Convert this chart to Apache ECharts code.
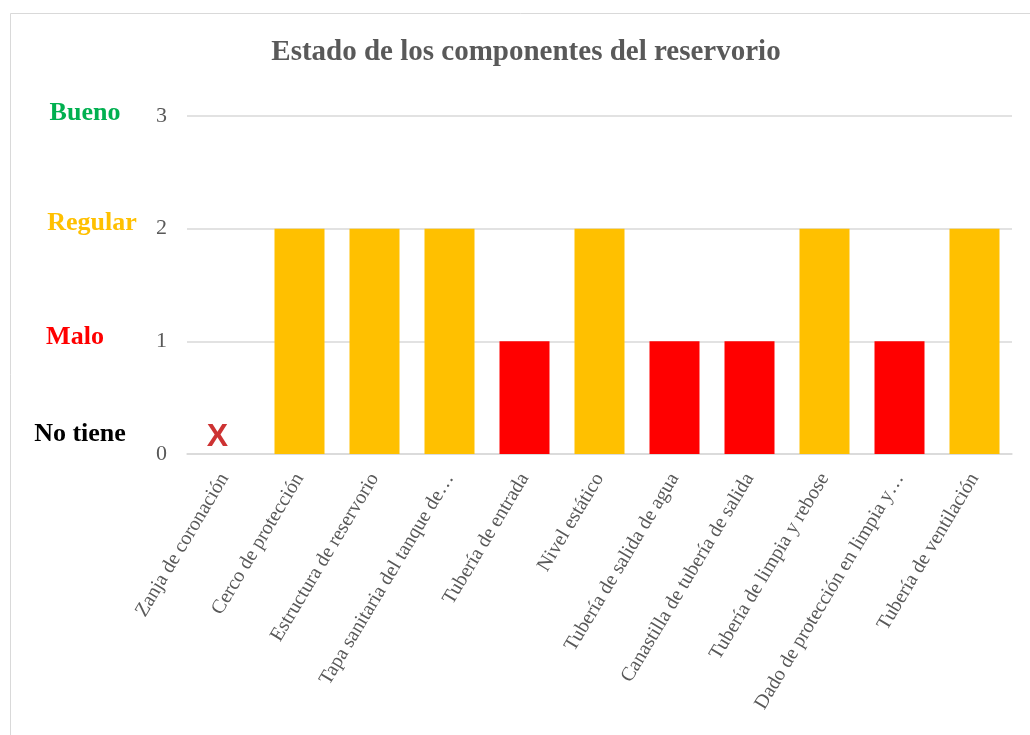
<!DOCTYPE html>
<html>
<head>
<meta charset="utf-8">
<script src="https://cdn.jsdelivr.net/npm/echarts@6/dist/echarts.min.js"></script>
<style>html,body{margin:0;padding:0;background:#fff}#c{width:1030px;height:735px}</style>
</head>
<body>
<div id="c"></div>
<script>
const titleText = 'Estado de los componentes del reservorio';
const categories = ['Zanja de coronación','Cerco de protección','Estructura de reservorio','Tapa sanitaria del tanque de…','Tubería de entrada','Nivel estático','Tubería de salida de agua','Canastilla de tubería de salida','Tubería de limpia y rebose','Dado de protección en limpia y…','Tubería de ventilación'];
const values = [0,2,2,2,1,2,1,1,2,1,2];
const yTicks = [0,1,2,3];
const levelLabels = ['No tiene','Malo','Regular','Bueno'];
const noneMark = 'X';

const levelColors = ['#000000','#FF0000','#FFC000','#00B050'];
const barColors = {1:'#FF0000',2:'#FFC000',3:'#00B050'};
const serif = '"Liberation Serif","Times New Roman",serif';
const lvlFont = 26;

const chart = echarts.init(document.getElementById('c'), null, {renderer:'canvas'});
chart.setOption({
  animation:false,
  backgroundColor:'#fff',
  title:{text:titleText,left:521,textAlign:'center',top:33,
    textStyle:{fontFamily:serif,fontSize:29,fontWeight:'bold',color:'#595959'}},
  graphic:[{type:'rect',shape:{x:10.5,y:13.5,width:1040,height:740},
    style:{fill:'none',stroke:'#d9d9d9',lineWidth:1},silent:true}],
  grid:{left:187,right:18,top:116,bottom:281},
  xAxis:{type:'category',data:categories,
    axisLine:{lineStyle:{color:'#d9d9d9',width:1.5}},axisTick:{show:false},
    axisLabel:{rotate:59,interval:0,margin:21,fontFamily:serif,fontSize:20,color:'#595959'}},
  yAxis:[{type:'value',min:yTicks[0],max:yTicks[yTicks.length-1],interval:1,
    splitLine:{lineStyle:{color:'#d9d9d9',width:1.5}},axisLine:{show:false},axisTick:{show:false},
    axisLabel:{margin:20,fontFamily:serif,fontSize:22,color:'#595959'}},
   {type:'value',position:'left',offset:102,min:yTicks[0],max:yTicks[yTicks.length-1],interval:1,
    splitLine:{show:false},axisLine:{show:false},axisTick:{show:false},
    axisLabel:{margin:0,align:'center',
      formatter:function(v){return '{l'+v+'|'+levelLabels[v]+'}';},
      rich:{
        l0:{fontFamily:serif,fontSize:lvlFont,fontWeight:'bold',color:levelColors[0],padding:[0,10,40,0]},
        l1:{fontFamily:serif,fontSize:lvlFont,fontWeight:'bold',color:levelColors[1],padding:[0,20,8,0]},
        l2:{fontFamily:serif,fontSize:lvlFont,fontWeight:'bold',color:levelColors[2],padding:[0,0,10,14]},
        l3:{fontFamily:serif,fontSize:lvlFont,fontWeight:'bold',color:levelColors[3],padding:[0,0,6,0]}
      }}}],
  series:[{type:'bar',barWidth:50,yAxisIndex:0,
    data:values.map(v=>({value:v,itemStyle:{color:barColors[v]||'#000'}}))},
   {type:'scatter',yAxisIndex:0,symbolSize:1,itemStyle:{color:'rgba(0,0,0,0)'},
    data:values.map((v,i)=>v===0?[i,0]:null).filter(d=>d),
    label:{show:true,formatter:noneMark,position:'inside',offset:[-7,-17],
      fontFamily:'"Liberation Sans",Arial,sans-serif',fontSize:32,fontWeight:'bold',color:'#C00000'}}]
});
</script>
</body>
</html>
